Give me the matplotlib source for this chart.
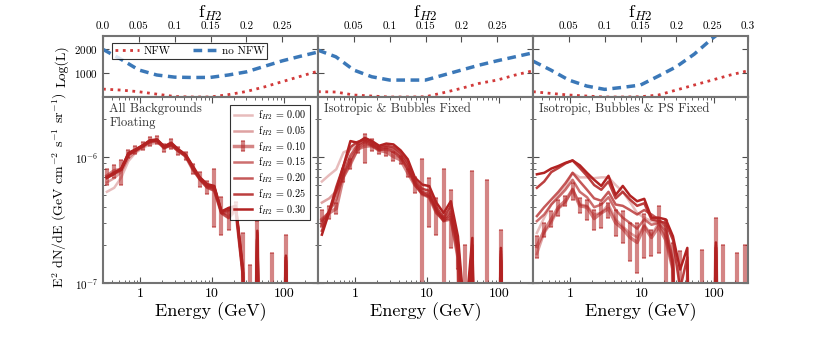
import matplotlib
matplotlib.use('Agg')
import matplotlib.pyplot as plt
import numpy as np

plt.rcParams['font.family'] = 'cmr10'
plt.rcParams['mathtext.fontset'] = 'cm'
plt.rcParams['axes.unicode_minus'] = False
plt.rcParams['axes.formatter.use_mathtext'] = True

# likelihood scan vs f_H2
f_grid = [0.0, 0.025, 0.05, 0.075, 0.1, 0.125, 0.15, 0.175, 0.2, 0.225, 0.25, 0.275, 0.3]
nfw_L = [
    [330, 290, 220, 120, 20, 0, 0, 100, 230, 420, 640, 860, 1080],
    [222, 208, 83, 40, 0, 0, 10, 180, 361, 570, 708, 917, 1097],
    [222, 150, 83, 40, 0, 0, 10, 83, 292, 500, 708, 917, 1097],
]
nonfw_L = [
    [1990, 1580, 1130, 920, 830, 815, 820, 920, 1050, 1280, 1510, 1700, 1880],
    [1958, 1680, 1125, 846, 708, 708, 708, 917, 1125, 1333, 1514, 1680, 1847],
    [1500, 1125, 708, 458, 319, 403, 500, 875, 1264, 1792, 2445, 3000, 3600],
]

# spectra, units of 1e-7 GeV cm^-2 s^-1 sr^-1 (0 = below plot floor)
energy = [0.34, 0.43, 0.54, 0.68, 0.85, 1.07, 1.35, 1.70, 2.14, 2.69, 3.39, 4.27, 5.37, 6.76, 8.51,
          10.7, 13.5, 17.0, 21.4, 26.9, 33.9, 42.7, 53.7, 67.6, 85.1, 107, 135, 170, 214, 269]
fh2_values = [0.00, 0.05, 0.10, 0.15, 0.20, 0.25, 0.30]

spec_float = [
    [5.3, 5.7, 6.9, 9.3, 10.8, 11.8, 12.6, 13.0, 12.0, 12.2, 11.2, 10.2, 8.3, 6.6, 5.7, 5.4, 3.6, 3.3, 3.9, 1.1, 0, 2.0, 0, 0, 0, 1.4, 0, 0, 0, 0],
    [6.3, 6.8, 7.6, 9.8, 11.0, 12.0, 13.0, 13.3, 11.9, 12.3, 11.1, 10.1, 8.0, 6.6, 5.7, 5.4, 3.6, 3.3, 3.8, 1.1, 0, 2.1, 0, 0, 0, 1.4, 0, 0, 0, 0],
    [7.1, 7.8, 8.0, 10.5, 11.3, 12.2, 13.3, 13.6, 11.8, 12.6, 11.2, 10.2, 8.0, 6.7, 5.8, 5.5, 3.6, 3.3, 3.8, 1.2, 0, 2.2, 0, 0, 0, 1.5, 0, 0, 0, 0],
    [7.0, 7.6, 8.0, 10.5, 11.3, 12.2, 13.3, 13.6, 11.8, 12.6, 11.2, 10.2, 8.1, 6.7, 5.8, 5.6, 3.6, 3.5, 3.9, 1.2, 0, 2.3, 0, 0, 0, 1.5, 0, 0, 0, 0],
    [6.9, 7.3, 7.9, 10.4, 11.3, 12.2, 13.3, 13.5, 11.9, 12.7, 11.3, 10.3, 8.2, 6.7, 5.9, 5.7, 3.6, 3.7, 4.0, 1.2, 0, 2.4, 0, 0, 0, 1.6, 0, 0, 0, 0],
    [6.8, 7.4, 8.0, 10.6, 11.4, 12.3, 13.4, 13.7, 12.0, 12.8, 11.4, 10.4, 8.3, 6.8, 6.0, 5.8, 3.7, 3.8, 4.0, 1.2, 0, 2.5, 0, 0, 0, 1.6, 0, 0, 0, 0],
    [6.9, 7.5, 8.1, 10.8, 11.5, 12.4, 13.6, 13.8, 12.2, 13.0, 11.5, 10.5, 8.5, 6.9, 6.1, 5.9, 3.7, 3.95, 4.1, 1.3, 0, 2.6, 0, 0, 0, 1.65, 0, 0, 0, 0],
]
err_float_lo = [6.0, 6.8, 6.0, 9.8, 10.5, 11.3, 12.3, 12.6, 11.0, 11.6, 10.3, 9.4, 7.3, 5.8, 5.1, 2.8, 2.4, 2.65, 3.7, 0, 0, 0, 0, 0, 0, 0, 0, 0, 0, 0]
err_float_hi = [8.0, 8.6, 9.5, 11.4, 12.2, 13.2, 14.4, 14.8, 12.8, 13.8, 12.0, 11.0, 8.8, 7.6, 6.4, 8.0, 4.8, 3.95, 4.4, 2.5, 1.4, 3.1, 0, 1.74, 0, 2.4, 0, 0, 0, 0]

spec_iso = [
    [6.4, 7.2, 8.0, 10.9, 11.5, 12.3, 13.0, 12.4, 11.4, 11.8, 11.0, 10.0, 8.3, 6.3, 5.1, 4.9, 3.7, 3.1, 3.2, 1.7, 0, 1.6, 0, 0, 0, 1.5, 0, 0, 0, 0],
    [4.35, 4.7, 5.35, 6.9, 9.0, 11.3, 12.8, 12.2, 11.4, 11.5, 10.8, 9.8, 8.0, 6.1, 5.0, 4.8, 3.6, 3.1, 3.2, 1.6, 0, 1.6, 0, 0, 0, 1.5, 0, 0, 0, 0],
    [3.2, 3.6, 3.9, 7.0, 8.8, 11.6, 12.2, 12.3, 11.3, 11.0, 10.1, 9.5, 7.5, 6.0, 5.2, 4.8, 3.6, 3.2, 3.3, 1.6, 0, 1.5, 0, 0, 0, 1.5, 0, 0, 0, 0],
    [3.1, 3.7, 4.6, 7.2, 9.5, 12.0, 13.2, 12.4, 11.4, 11.6, 11.0, 9.9, 8.0, 6.0, 5.1, 4.9, 3.7, 3.1, 3.5, 1.8, 0, 1.7, 0, 0, 0, 1.6, 0, 0, 0, 0],
    [2.9, 3.7, 5.3, 7.6, 10.3, 12.5, 13.5, 12.7, 11.7, 12.0, 11.5, 10.3, 8.5, 6.2, 5.3, 5.1, 3.8, 3.2, 3.7, 1.9, 0.3, 1.8, 0, 0, 0, 1.7, 0, 0, 0, 0],
    [2.6, 3.7, 5.8, 8.5, 12.0, 13.2, 13.8, 13.0, 12.0, 12.3, 12.0, 10.8, 9.0, 6.5, 5.6, 5.4, 4.0, 3.3, 4.1, 2.1, 0.4, 2.0, 0, 0, 0, 1.8, 0, 0, 0, 0],
    [2.42, 3.65, 5.5, 8.5, 13.4, 13.0, 14.2, 13.4, 12.3, 12.8, 12.6, 11.3, 9.6, 6.85, 6.05, 5.88, 4.33, 3.6, 4.46, 2.35, 0.5, 2.28, 0, 0, 0, 1.9, 0, 0, 0, 0],
]
err_iso_lo = [2.8, 3.2, 3.5, 6.3, 8.0, 10.7, 9.0, 11.2, 10.5, 10.2, 9.3, 8.8, 7.0, 5.2, 0, 2.8, 2.42, 0, 1.9, 1.3, 0, 0, 0, 0, 0, 0, 0, 0, 0, 0]
err_iso_hi = [3.83, 4.1, 4.35, 8.0, 9.6, 12.6, 15.2, 13.8, 12.2, 11.8, 10.9, 10.2, 8.0, 7.0, 9.6, 6.85, 4.77, 8.0, 5.5, 2.0, 2.0, 7.7, 0, 6.6, 0, 2.65, 0, 0, 0, 0]

spec_ps = [
    [2.5, 3.3, 4.2, 5.0, 5.8, 7.5, 6.9, 6.9, 6.8, 6.9, 6.9, 6.0, 5.3, 4.4, 3.6, 3.3, 3.1, 3.0, 2.4, 1.3, 0, 0, 0, 0, 0, 0, 0, 0, 0, 0],
    [1.7, 2.5, 3.0, 3.9, 4.3, 5.6, 4.2, 4.1, 3.5, 3.6, 4.2, 3.2, 2.8, 2.5, 2.3, 2.9, 2.4, 3.0, 2.3, 1.3, 0, 0, 0, 0, 0, 0, 0, 0, 0, 0],
    [1.95, 2.6, 3.2, 4.0, 4.5, 5.5, 4.1, 4.0, 3.25, 3.6, 3.9, 3.0, 2.7, 2.3, 2.1, 2.8, 2.3, 2.8, 2.2, 1.28, 0, 0, 0, 0, 0, 1.9, 0, 0, 0, 0],
    [3.1, 3.5, 4.2, 4.8, 5.5, 6.6, 5.3, 4.8, 4.0, 4.2, 4.8, 3.8, 3.3, 3.0, 2.7, 3.2, 2.9, 3.0, 2.6, 1.4, 0, 0, 0, 0, 0, 1.9, 0, 0, 0, 0],
    [3.4, 4.0, 4.6, 5.3, 6.2, 7.5, 6.4, 5.5, 4.7, 4.5, 5.3, 4.2, 4.1, 3.8, 3.5, 3.8, 3.5, 3.2, 2.8, 1.5, 0, 1.4, 0, 0, 0, 2.0, 0, 0, 0, 0],
    [5.7, 6.4, 7.6, 8.2, 8.9, 9.4, 8.2, 7.1, 6.0, 5.5, 6.4, 4.7, 5.3, 4.6, 4.1, 4.3, 3.2, 3.1, 3.0, 2.2, 0.9, 1.6, 0, 0, 0, 1.8, 0, 0, 0, 0],
    [7.3, 7.5, 8.1, 8.5, 9.0, 9.4, 8.6, 7.5, 6.6, 5.9, 7.1, 5.0, 5.9, 4.95, 4.46, 4.66, 3.3, 3.3, 3.2, 2.35, 1.28, 1.9, 0, 0, 0, 2.1, 0, 0, 0, 0],
]
err_ps_lo = [1.59, 2.3, 2.8, 3.4, 4.07, 4.6, 3.6, 3.19, 2.65, 2.75, 3.29, 2.35, 2.08, 1.49, 1.2, 1.59, 1.63, 1.73, 0, 0, 0, 0, 0, 0, 0, 0, 0, 0, 0, 0]
err_ps_hi = [2.35, 3.0, 3.7, 4.6, 4.95, 6.2, 4.7, 4.6, 3.83, 4.35, 4.35, 3.83, 3.7, 3.0, 3.0, 3.5, 2.65, 4.07, 3.19, 2.08, 1.78, 0, 0, 1.84, 0, 3.29, 2.0, 0, 1.73, 2.0]

panel_titles = ['All Backgrounds\nFloating', 'Isotropic & Bubbles Fixed', 'Isotropic, Bubbles & PS Fixed']
spectra = [spec_float, spec_iso, spec_ps]
errs = [(err_float_lo, err_float_hi), (err_iso_lo, err_iso_hi), (err_ps_lo, err_ps_hi)]

red = '#b22222'
alphas = [0.3, 0.42, 0.55, 0.65, 0.75, 0.87, 1.0]
spine_col = '0.45'
floor = 1e-3

fig = plt.figure(figsize=(8.3, 3.6), dpi=100)
W = 215 / 830.
lefts = [103 / 830., 318 / 830., 533 / 830.]

f_ticks = [0.0, 0.05, 0.1, 0.15, 0.2, 0.25, 0.3]
f_labels = [['0.0', '0.05', '0.1', '0.15', '0.2', '0.25', ''],
            ['', '0.05', '0.1', '0.15', '0.2', '0.25', ''],
            ['', '0.05', '0.1', '0.15', '0.2', '0.25', '0.3']]

def style_axes(ax):
    for s in ax.spines.values():
        s.set_color(spine_col)
        s.set_linewidth(1.5)
    ax.tick_params(which='both', direction='in', color='0.3', labelsize=8)
    ax.tick_params(which='major', length=4)
    ax.tick_params(which='minor', length=2)

E = np.array(energy)
for i in range(3):
    # top: likelihood
    axt = fig.add_axes([lefts[i], 263 / 360., W, 61 / 360.])
    l1, = axt.plot(f_grid, nfw_L[i], ls=':', color='#d23a3a', lw=2)
    l2, = axt.plot(f_grid, nonfw_L[i], ls='--', color='#3b78b8', lw=2.5, dashes=(2.5, 1.6))
    axt.set_xlim(0, 0.3)
    axt.set_ylim(0, 2550)
    axt.xaxis.tick_top()
    axt.xaxis.set_label_position('top')
    axt.set_xticks(f_ticks)
    axt.set_xticklabels(f_labels[i])
    axt.set_yticks([1000, 2000])
    axt.yaxis.set_ticks_position('both')
    axt.set_xlabel('f$_{H2}$', fontsize=13, labelpad=3)
    style_axes(axt)
    if i == 0:
        axt.set_ylabel('Log(L)', fontsize=10)
        leg = axt.legend([l1, l2], ['NFW', 'no NFW'], loc='upper left', ncol=2, fontsize=8,
                         fancybox=False, edgecolor='black', borderpad=0.25, handlelength=2.2,
                         handletextpad=0.4, columnspacing=2.0, bbox_to_anchor=(0.015, 0.97))
        leg.get_frame().set_linewidth(0.8)
    else:
        axt.set_yticklabels([])

    # bottom: spectra
    ax = fig.add_axes([lefts[i], 77 / 360., W, 186 / 360.])
    ax.set_xscale('log')
    ax.set_yscale('log')
    handles = []
    for j, f in enumerate(fh2_values):
        y = np.clip(np.array(spectra[i][j]), floor, None) * 1e-7
        if j == 2:
            lo, hi = errs[i]
            c = np.array(spectra[i][j])
            lo = np.array(lo)
            hi = np.array(hi)
            yl = np.clip(c - lo, 0, None)
            yh = np.clip(hi - c, 0, None)
            yl = np.where(hi == 0, 0, yl)
            yc = np.clip(c, floor, None)
            yl = np.minimum(yl * 1.0, yc - floor)
            h = ax.errorbar(E, yc * 1e-7, yerr=[yl * 1e-7, yh * 1e-7], color=red, alpha=0.55,
                            lw=2.5, elinewidth=3, capsize=1.5, capthick=1.2)
        else:
            h, = ax.plot(E, y, color=red, alpha=alphas[j], lw=1.8)
        handles.append(h)
    ax.set_xlim(0.3, 300)
    ax.set_ylim(1e-7, 3e-6)
    ax.set_xticks([1, 10, 100])
    ax.set_xticklabels(['1', '10', '100'], fontsize=10)
    ax.xaxis.set_ticks_position('both')
    ax.yaxis.set_ticks_position('both')
    style_axes(ax)
    ax.tick_params(axis='x', labelsize=10)
    ax.set_xlabel('Energy (GeV)', fontsize=13, labelpad=2)
    ax.text(0.03, 0.97, panel_titles[i], transform=ax.transAxes, fontsize=9.2,
            va='top', ha='left', color='0.2')
    if i == 0:
        ax.set_ylabel('E$^2$ dN/dE (GeV cm$^{-2}$ s$^{-1}$ sr$^{-1}$)', fontsize=10)
        labels = ['f$_{H2}$ = %.2f' % f for f in fh2_values]
        leg = ax.legend(handles, labels, loc='upper right', fontsize=7.3, fancybox=False,
                        edgecolor='black', handlelength=1.8, labelspacing=0.2,
                        handletextpad=0.6, borderpad=0.35, bbox_to_anchor=(0.985, 0.985))
        leg.get_frame().set_linewidth(0.8)
    else:
        ax.set_yticklabels([], minor=True)
        ax.set_yticklabels([])

fig.savefig('out.png', dpi=100)
